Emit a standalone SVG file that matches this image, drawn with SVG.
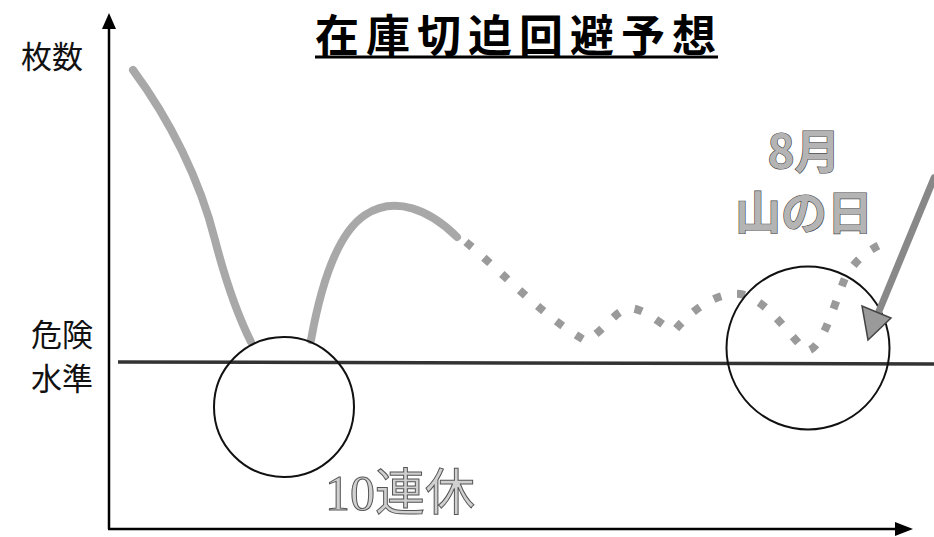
<svg xmlns="http://www.w3.org/2000/svg" width="934" height="537" viewBox="0 0 934 537">
<defs>
<style>
.jp{font-family:"Noto Sans CJK JP","Noto Sans CJK SC",sans-serif;}
.lbl{font-size:31px;fill:#111;}
.big{font-size:46px;font-weight:bold;fill:#b4b4b4;stroke:#444;stroke-width:1.2;paint-order:stroke;}
.curve{fill:none;stroke:#a8a8a8;stroke-width:8;stroke-linecap:round;}
.dots{fill:none;stroke:#9a9a9a;stroke-width:8;stroke-dasharray:8 16;}
.circ{fill:none;stroke:#111;stroke-width:2;}
</style>
</defs>
<rect width="934" height="537" fill="#fff"/>
<g id="title">
<text class="jp" x="519" y="51.5" font-size="44" font-weight="bold" letter-spacing="7" text-anchor="middle" fill="#000">在庫切迫回避予想</text>
<line x1="315" y1="57" x2="718" y2="57" stroke="#000" stroke-width="3"/>
</g>
<g id="axes">
<line x1="109" y1="529" x2="109" y2="26" stroke="#000" stroke-width="2.5"/>
<path d="M109,13 L102,29 L116,29 z" fill="#000"/>
<line x1="108" y1="529" x2="898" y2="529" stroke="#000" stroke-width="2.5"/>
<path d="M913,529 L895,522 L895,536 z" fill="#000"/>
<text class="jp lbl" x="52" y="68" text-anchor="middle">枚数</text>
</g>
<g id="danger">
<line x1="118" y1="362" x2="934" y2="364" stroke="#333" stroke-width="3.5"/>
<text class="jp lbl" x="62" y="346" font-size="30" text-anchor="middle">危険</text>
<text class="jp lbl" x="62" y="390" font-size="30" text-anchor="middle">水準</text>
</g>
<g id="connectors">
<path class="curve" d="M133,70 C170,120 200,180 215,240 C228,290 240,320 251,342"/>
<path class="curve" d="M311,340 C320,290 335,235 365,215 C395,195 430,210 457,237"/>
<path class="dots" d="M466,242 C505,275 545,318 586,341 C605,330 615,310 630,308 C650,310 665,330 675,330 C690,312 715,292 740,294 C765,298 785,330 806,351 C822,350 832,310 845,278 C855,260 868,250 884,243"/>
</g>
<g id="holiday10">
<circle class="circ" cx="284" cy="407" r="70" stroke-width="1.6"/>
<text x="325" y="510" font-size="50" fill="#d0d0d0" stroke="#555" stroke-width="1" font-family="'Liberation Serif','Noto Sans CJK JP',serif">10<tspan font-family="'Noto Sans CJK JP',sans-serif">連休</tspan></text>
</g>
<g id="mountainday">
<circle class="circ" cx="808" cy="348" r="81.5" stroke-width="2.5"/>
<text class="jp big" x="804" y="168" text-anchor="middle">8月</text>
<text class="jp big" x="804" y="229" text-anchor="middle">山の日</text>
<line x1="934" y1="178" x2="877" y2="316" stroke="#888" stroke-width="7" stroke-linecap="round"/>
<path d="M868,340 L862,306 L891,318 z" fill="#9a9a9a" stroke="#444" stroke-width="1.5"/>
</g>
</svg>
